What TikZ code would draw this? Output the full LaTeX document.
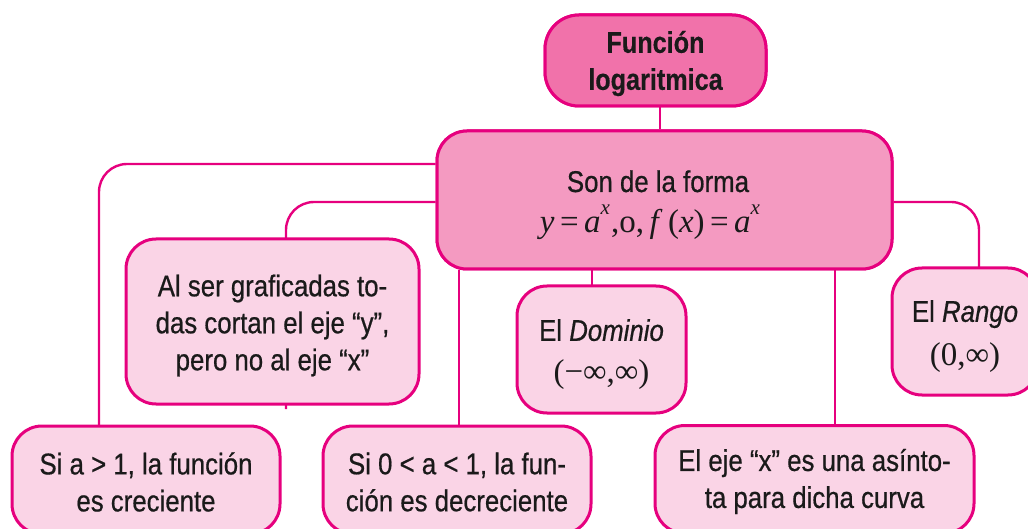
\documentclass[tikz,border=0pt]{standalone}
\usepackage{fontspec}
\setmainfont{Liberation Sans}[FakeStretch=0.86, FakeBold=0.6,
  BoldFeatures={FakeStretch=0.84, FakeBold=0.3},
  ItalicFeatures={FakeStretch=0.86, FakeBold=0.6}]
\newfontfamily\tms{Liberation Serif}
\usetikzlibrary{calc}
\definecolor{mag}{HTML}{E6007E}
\definecolor{topfill}{HTML}{F172AA}
\definecolor{midfill}{HTML}{F49AC1}
\definecolor{lightfill}{HTML}{FAD4E6}
\definecolor{ink}{HTML}{1A1A1A}
\tikzset{
  box/.style={draw=mag, line width=3pt, rounded corners=30pt, inner sep=0pt},
  lightbox/.style={box, fill=lightfill},
  topbox/.style={box, fill=topfill, rounded corners=34pt},
  midbox/.style={box, fill=midfill},
  txt/.style={inner sep=0pt, align=center, text=ink, font=\fontsize{30}{37}\selectfont},
  conn/.style={draw=mag, line width=2.4pt, rounded corners=28pt},
}
\newcommand{\mth}[1]{{\tms\fontsize{33}{37}\selectfont #1}}
\newcommand{\sups}[1]{\raisebox{0.55em}{\fontsize{21}{21}\selectfont\textit{#1}}}
\begin{document}
\begin{tikzpicture}[x=1pt,y=-1pt]
\useasboundingbox (0,0) rectangle (1028,529);
\clip (0,0) rectangle (1028,529);
% connector turning points
\coordinate (k1) at (99,164);
\coordinate (k2) at (286,202);
\coordinate (k3) at (979,202);
\coordinate (k4) at (459,0);
\coordinate (k5) at (592,0);
\coordinate (k6) at (835,0);
\coordinate (k0) at (660,0);
% boxes that connectors start from
\node[topbox, minimum width=221pt, minimum height=91pt] (top) at (655.5,60.5) {};
\node[midbox, minimum width=455pt, minimum height=138pt] (mid) at (664.5,200) {};
% connectors
\draw[conn] (mid.west |- k1) -- (k1) -- (k1 |- 0,426);
\draw[conn] (mid.west |- k2) -- (k2) -- (k2 |- 0,409);
\draw[conn] (mid.east |- k3) -- (k3) -- (k3 |- 0,268);
\draw[conn] (k0 |- top.south) -- (k0 |- mid.north);
\draw[conn] (k4 |- mid.south) -- (k4 |- 0,426);
\draw[conn] (k5 |- mid.south) -- (k5 |- 0,286);
\draw[conn] (k6 |- mid.south) -- (k6 |- 0,425);
% boxes on top of connectors
\node[topbox, minimum width=221pt, minimum height=91pt] at (top) {};
\node[midbox, minimum width=455pt, minimum height=138pt] at (mid) {};
\node[lightbox, minimum width=293pt, minimum height=165pt] (alser) at (272.5,321.5) {};
\node[lightbox, minimum width=169pt, minimum height=127pt] (dom) at (601.5,349.5) {};
\node[lightbox, minimum width=146pt, minimum height=127pt] (rango) at (965,331.5) {};
\node[lightbox, minimum width=268pt, minimum height=108pt] (b1) at (146,480) {};
\node[lightbox, minimum width=268pt, minimum height=108pt] (b2) at (457,480) {};
\node[lightbox, minimum width=319pt, minimum height=108pt] (b3) at (814.5,479.5) {};
% texts
\node[txt, font=\fontsize{30}{37}\selectfont\bfseries] (top-t) at ([yshift=-3pt]top.center) {Función\\logaritmica};
\node[txt, anchor=base] (mid-t1) at (658,192) {Son de la forma};
\node[txt, anchor=base] (mid-t2) at (650,233)
  {\mth{\textit{y}\,=\,\textit{a}\sups{x}\kern1pt,o,\,\textit{f}\,(\textit{x})\,=\,\textit{a}\sups{x}}};
\node[txt] (alser-t) at ([yshift=-4pt]alser.center)
  {Al ser graficadas to-\\das cortan el eje “y”,\\pero no al eje “x”};
\node[txt] (dom-t) at ([yshift=-5pt]dom.center)
  {El \textit{Dominio}\\[5pt]\mth{(−∞,∞)}};
\node[txt] (rango-t) at ([yshift=-5pt]rango.center)
  {El \textit{Rango}\\[7pt]\mth{(0,∞)}};
\node[txt] (b1-t) at ([yshift=-2pt]b1.center) {Si a > 1, la función\\es creciente};
\node[txt] (b2-t) at ([yshift=-2pt]b2.center) {Si 0 < a < 1, la fun-\\ción es decreciente};
\node[txt] (b3-t) at ([yshift=-2pt]b3.center) {El eje “x” es una asínto-\\ta para dicha curva};
\end{tikzpicture}
\end{document}
